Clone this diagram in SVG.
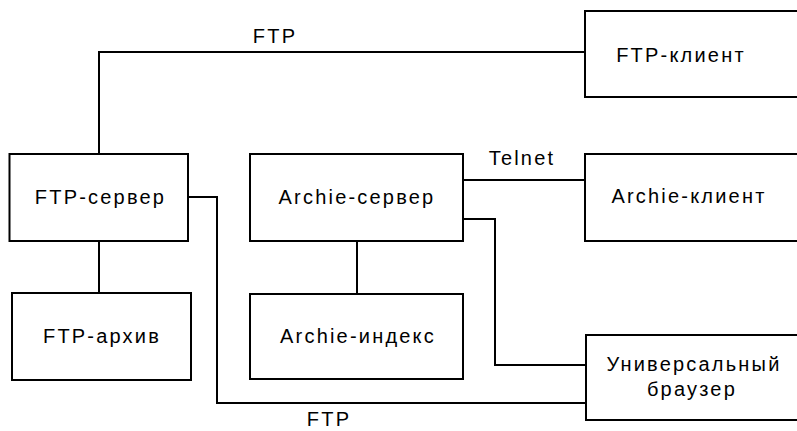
<svg xmlns="http://www.w3.org/2000/svg" width="797" height="431" viewBox="0 0 797 431">
<style>
.box{fill:#fff;stroke:#000;stroke-width:2}
.ln{fill:none;stroke:#000;stroke-width:2}
text{font-family:"Liberation Sans",Arial,sans-serif;font-size:20px;letter-spacing:2.2px;fill:#000;text-anchor:middle}
</style>
<rect width="797" height="431" fill="#fff"/>
<g id="connectors">
<polyline class="ln" points="99,154 99,52 585,52"/>
<line class="ln" x1="463" y1="180" x2="585" y2="180"/>
<polyline class="ln" points="463,219 495,219 495,365 586,365"/>
<polyline class="ln" points="188,197 217,197 217,403 586,403"/>
<line class="ln" x1="99" y1="241" x2="99" y2="293"/>
<line class="ln" x1="357" y1="241" x2="357" y2="294"/>
<text x="275" y="43">FTP</text>
<text x="522" y="165">Telnet</text>
<text x="329" y="426">FTP</text>
</g>
<g id="ftp-client"><rect class="box" x="585" y="11" width="220" height="86"/><text x="681" y="62">FTP-клиент</text></g>
<g id="ftp-server"><rect class="box" x="9.5" y="154" width="178.5" height="87"/><text x="100.5" y="203.5">FTP-сервер</text></g>
<g id="archie-server"><rect class="box" x="250" y="154" width="213" height="87"/><text x="357" y="203.5">Archie-сервер</text></g>
<g id="archie-client"><rect class="box" x="585" y="154" width="220" height="87"/><text x="689" y="203">Archie-клиент</text></g>
<g id="ftp-archive"><rect class="box" x="12" y="293" width="179" height="87"/><text x="102" y="343">FTP-архив</text></g>
<g id="archie-index"><rect class="box" x="250" y="294" width="213" height="85"/><text x="358" y="343">Archie-индекс</text></g>
<g id="browser"><rect class="box" x="586" y="335" width="220" height="85"/><text x="694" y="370.5">Универсальный</text><text x="692" y="395.5">браузер</text></g>
</svg>
